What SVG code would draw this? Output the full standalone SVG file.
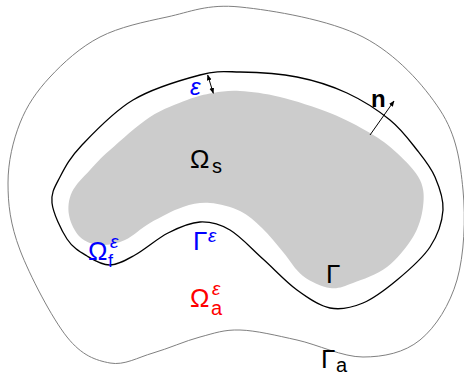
<svg xmlns="http://www.w3.org/2000/svg" width="464" height="373" viewBox="0 0 464 373">
<style>
text{font-family:"Liberation Sans",Arial,sans-serif;font-size:26px}
.sub{font-size:20px}
.eps{font-style:italic;font-size:19px}
.blue{fill:#0000ff}
.red{fill:#ff0000}
.blk{fill:#000}
.outer{fill:none;stroke:#808080;stroke-width:1}
.gamma{fill:none;stroke:#000;stroke-width:1.3}
.solid{fill:#cccccc;stroke:none}
.arr{fill:none;stroke:#000;stroke-width:1}
</style>
<defs>
<marker id="ah" viewBox="0 0 10 10" refX="9" refY="5" markerWidth="6" markerHeight="6" orient="auto-start-reverse" markerUnits="userSpaceOnUse">
<path d="M0,1 L10,5 L0,9 z" fill="#000"/>
</marker>
</defs>
<rect width="464" height="373" fill="#fff"/>
<g id="outer-domain">
<path class="outer" d="M240,7 C272.7,10.3 329.7,19.8 363,37 C396.3,54.2 423.3,84.5 440,110 C456.7,135.5 460.2,161.7 463,190 C465.8,218.3 464.2,255 457,280 C449.8,305 435.7,327.2 420,340 C404.3,352.8 383.5,357 363,357 C342.5,357 317.5,344.5 297,340 C276.5,335.5 256.2,330.5 240,330 C223.8,329.5 214.5,333.2 200,337 C185.5,340.8 168,348.7 153,353 C138,357.3 124.3,365.7 110,363 C95.7,360.3 82,355.8 67,337 C52,318.2 29.8,275.7 20,250 C10.2,224.3 8,204.2 8,183 C8,161.8 13,140.7 20,123 C27,105.3 36.7,91.3 50,77 C63.3,62.7 80.5,47 100,37 C119.5,27 143.7,22 167,17 C190.3,12 207.3,3.7 240,7 Z"/>
</g>
<g id="solid">
<path class="solid" d="M240,91 C251.2,91.7 265,93.3 280,97 C295,100.7 315,107 330,113 C345,119 358.8,126.3 370,133 C381.2,139.7 388.7,145.2 397,153 C405.3,160.8 415.7,171 420,180 C424.3,189 424.2,197.5 423,207 C421.8,216.5 419,227 413,237 C407,247 397,259.3 387,267 C377,274.7 362.5,279.5 353,283 C343.5,286.5 338.3,289.2 330,288 C321.7,286.8 310.8,282 303,276 C295.2,270 289.8,260 283,252 C276.2,244 269.2,234.8 262,228 C254.8,221.2 248.7,215.2 240,211 C231.3,206.8 219.5,203.7 210,203 C200.5,202.3 193,203.7 183,207 C173,210.3 159.7,217.5 150,223 C140.3,228.5 133.3,236.3 125,240 C116.7,243.7 107.5,245.5 100,245 C92.5,244.5 85.2,242 80,237 C74.8,232 70.3,222.5 69,215 C67.7,207.5 68.5,199.5 72,192 C75.5,184.5 83.7,177 90,170 C96.3,163 100,158.8 110,150 C120,141.2 137.2,125.3 150,117 C162.8,108.7 176.5,104 187,100 C197.5,96 204.2,94.5 213,93 C221.8,91.5 228.8,90.3 240,91 Z"/>
</g>
<g id="interface">
<path class="gamma" d="M240,72 C256.2,72.3 279.2,73.5 297,77 C314.8,80.5 331.5,85.8 347,93 C362.5,100.2 378.3,110.5 390,120 C401.7,129.5 409.5,140.5 417,150 C424.5,159.5 430.7,167 435,177 C439.3,187 443.8,198.3 443,210 C442.2,221.7 437.7,235.3 430,247 C422.3,258.7 408.2,270.7 397,280 C385.8,289.3 374.2,298.3 363,303 C351.8,307.7 341,310.2 330,308 C319,305.8 308.2,298.2 297,290 C285.8,281.8 274.2,269 263,259 C251.8,249 240.5,236.2 230,230 C219.5,223.8 210.3,221.5 200,222 C189.7,222.5 178.8,227.5 168,233 C157.2,238.5 144.7,249.7 135,255 C125.3,260.3 118,264.8 110,265 C102,265.2 94.2,260.3 87,256 C79.8,251.7 72.8,247.8 67,239 C61.2,230.2 53.2,213.3 52,203 C50.8,192.7 55,186.7 60,177 C65,167.3 69.8,157.8 82,145 C94.2,132.2 113.3,111.7 133,100 C152.7,88.3 182.2,79.7 200,75 C217.8,70.3 223.8,71.7 240,72 Z"/>
</g>
<g id="connectors">
<line class="arr" x1="207.7" y1="75" x2="213.3" y2="93.3" marker-start="url(#ah)" marker-end="url(#ah)"/>
<line class="arr" x1="370" y1="135" x2="394" y2="101" marker-end="url(#ah)"/>
</g>
<g id="labels">
<text x="190" y="168" class="blk">Ω</text><text x="212" y="173" class="sub blk">s</text>
<text x="371" y="107" class="blk" style="font-weight:bold;font-size:24px">n</text>
<text x="190" y="95" class="blue" style="font-style:italic;font-size:24px">ε</text>
<text x="88" y="260" class="blue">Ω</text><text x="110" y="248" class="eps blue">ε</text><text x="108" y="267" class="blue" style="font-size:18px">f</text>
<text x="193" y="250" class="blue">Γ</text><text x="208" y="242" class="eps blue">ε</text>
<text x="190" y="307" class="red">Ω</text><text x="212" y="295" class="eps red">ε</text><text x="211" y="315" class="sub red">a</text>
<text x="326" y="283" class="blk">Γ</text>
<text x="321" y="368" class="blk">Γ</text><text x="336" y="372" class="sub blk">a</text>
</g>
</svg>
